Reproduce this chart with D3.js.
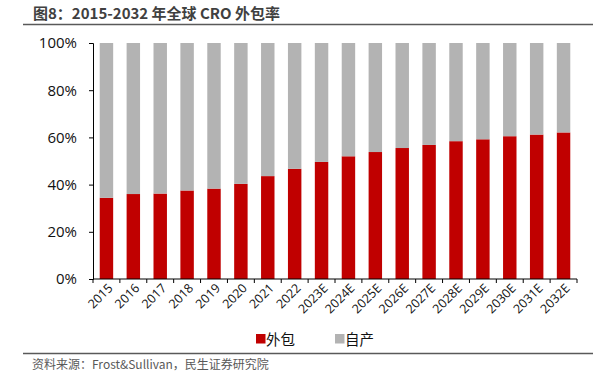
<!DOCTYPE html>
<html>
<head>
<meta charset="utf-8">
<script src="https://cdn.jsdelivr.net/npm/d3@7"></script>
<style>
  body { margin: 0; background: #fff; }
  svg { display: block; font-family: "Open Sans", "Noto Sans CJK SC", sans-serif; }
</style>
</head>
<body>
<div id="chart-area"></div>
<script>
// data (share of outsourced vs in-house)
var years = ["2015","2016","2017","2018","2019","2020","2021","2022","2023E","2024E",
             "2025E","2026E","2027E","2028E","2029E","2030E","2031E","2032E"];
var outsourced = [34.4, 36.0, 36.2, 37.5, 38.3, 40.3, 43.6, 46.7, 49.6, 52.0,
                  53.8, 55.5, 56.8, 58.4, 59.2, 60.5, 61.2, 62.1];
var inhouse = outsourced.map(function(v){ return 100 - v; });
var yTicks = [0, 20, 40, 60, 80, 100];
var seriesNames = ["外包", "自产"];
var colors = ["#c00000", "#b3b3b3"];

var W = 600, H = 374;
var margin = { left: 93, right: 23, top: 43, bottom: 95 };
var width = W - margin.left - margin.right;
var height = H - margin.top - margin.bottom;

var svg = d3.select("#chart-area").append("svg")
    .attr("width", W)
    .attr("height", H);

// title + rule
svg.append("text")
    .attr("x", 33).attr("y", 19)
    .attr("font-size", 15).attr("font-weight", "bold")
    .attr("font-family", "\"Noto Sans CJK SC\", sans-serif")
    .attr("fill", "#404040")
    .text("图8：2015-2032 年全球 CRO 外包率");
svg.append("line")
    .attr("x1", 23).attr("x2", 593).attr("y1", 24.5).attr("y2", 24.5)
    .attr("stroke", "#595959").attr("stroke-width", 1.5);

var g = svg.append("g")
    .attr("transform", "translate(" + margin.left + "," + margin.top + ")");

var x = d3.scaleBand().domain(years).range([0, width]).paddingInner(0.5).paddingOuter(0.25);
var y = d3.scaleLinear().domain([0, 100]).range([height, 0]);

var rows = years.map(function(yr, i){ return { year: yr, a: outsourced[i], b: inhouse[i] }; });
var stacked = d3.stack().keys(["a", "b"])(rows);

g.selectAll(".series")
    .data(stacked)
  .enter().append("g")
    .attr("class", "series")
    .attr("fill", function(d, i){ return colors[i]; })
  .selectAll("rect")
    .data(function(d){ return d; })
  .enter().append("rect")
    .attr("x", function(d){ return x(d.data.year); })
    .attr("width", x.bandwidth())
    .attr("y", function(d){ return y(d[1]); })
    .attr("height", function(d){ return y(d[0]) - y(d[1]); });

// y axis
var yAxis = g.append("g")
    .call(d3.axisLeft(y).tickValues(yTicks).tickSize(4).tickPadding(12)
        .tickFormat(function(d){ return d + "%"; }));
yAxis.select(".domain").attr("stroke", "#000");
yAxis.selectAll("text").attr("font-size", 15).attr("fill", "#111")
    .attr("font-family", "\"Open Sans\", sans-serif");

// x axis: ticks on band edges
var xAxis = g.append("g").attr("transform", "translate(0," + height + ")");
xAxis.append("line").attr("x1", 0).attr("x2", width).attr("stroke", "#000");
var step = x.step();
xAxis.selectAll(".tk")
    .data(d3.range(years.length + 1))
  .enter().append("line")
    .attr("class", "tk")
    .attr("x1", function(i){ return i * step; })
    .attr("x2", function(i){ return i * step; })
    .attr("y1", 0).attr("y2", 4)
    .attr("stroke", "#000");
xAxis.selectAll(".lbl")
    .data(years)
  .enter().append("text")
    .attr("class", "lbl")
    .attr("text-anchor", "end")
    .attr("font-size", 12.5)
    .attr("font-family", "\"Open Sans\", sans-serif")
    .attr("fill", "#111")
    .attr("transform", function(d){
        return "translate(" + (x(d) + x.bandwidth() / 2 + 7) + ",10) rotate(-45)";
    })
    .text(function(d){ return d; });

// legend
var legend = svg.append("g").attr("transform", "translate(256,334)");
var li = legend.selectAll(".li")
    .data(seriesNames)
  .enter().append("g")
    .attr("transform", function(d, i){ return "translate(" + (i * 79) + ",0)"; });
li.append("rect").attr("width", 9.5).attr("height", 9.5)
    .attr("fill", function(d, i){ return colors[i]; });
li.append("text").attr("x", 10).attr("y", 10.5)
    .attr("font-size", 14.5).attr("fill", "#111")
    .attr("font-family", "\"Noto Sans CJK SC\", sans-serif")
    .text(function(d){ return d; });

// source rule + note
svg.append("line")
    .attr("x1", 23).attr("x2", 593).attr("y1", 353.5).attr("y2", 353.5)
    .attr("stroke", "#595959").attr("stroke-width", 1.5);
svg.append("text")
    .attr("x", 32).attr("y", 369)
    .attr("font-size", 12).attr("fill", "#595959")
    .attr("font-family", "\"Noto Sans CJK SC\", sans-serif")
    .text("资料来源：Frost&Sullivan，民生证券研究院");
</script>
</body>
</html>
